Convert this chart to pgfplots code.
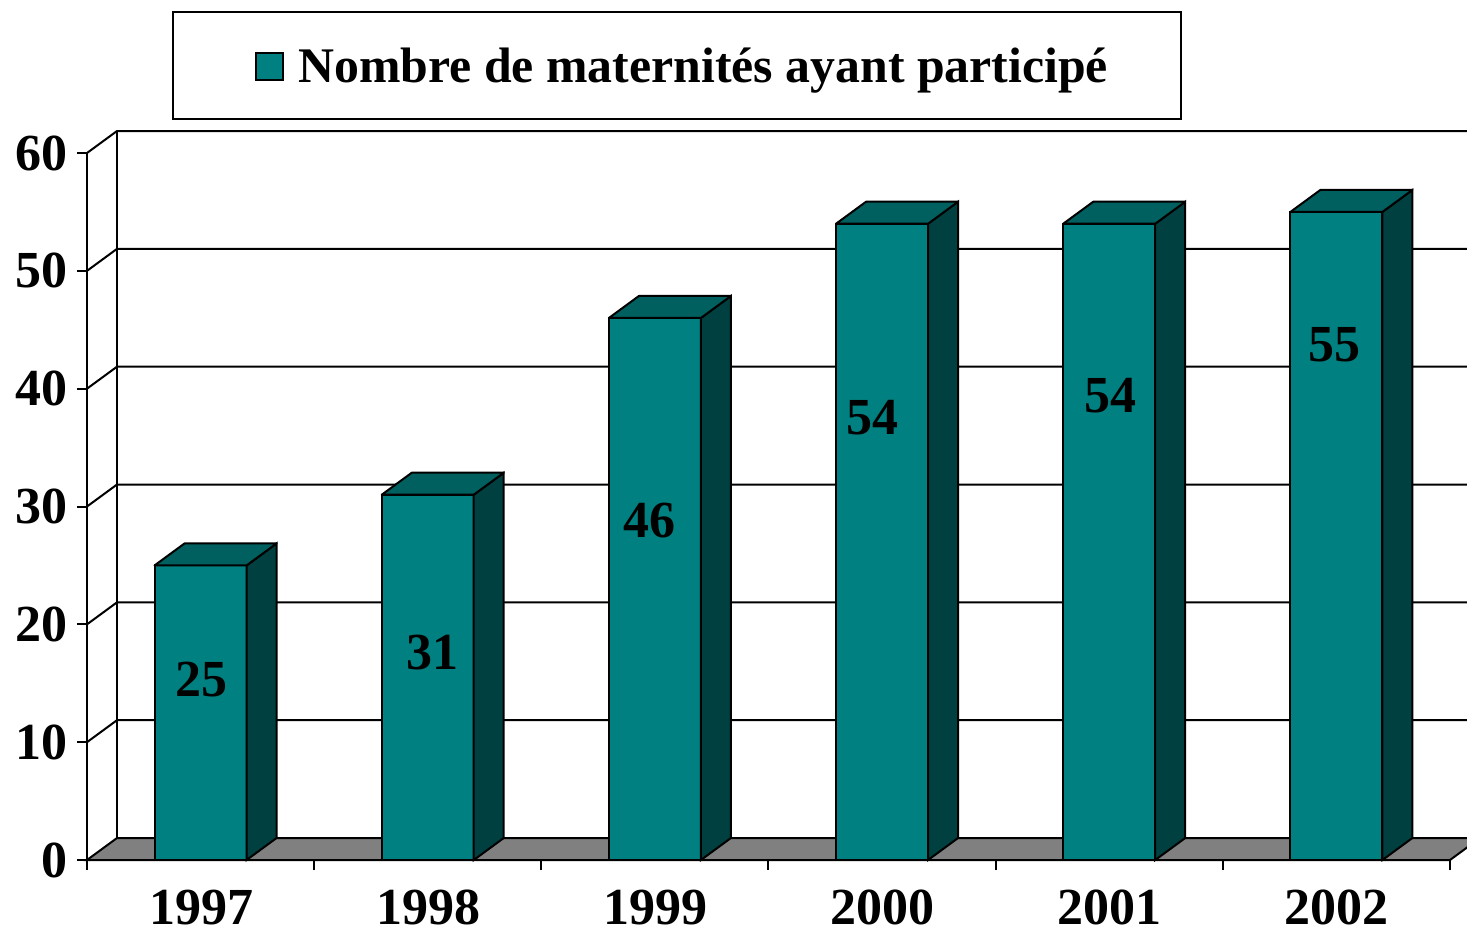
\documentclass[border=0pt]{standalone}
\usepackage{pgfplots}
\pgfplotsset{compat=1.18}
\usepackage{fontspec}
\setmainfont{Liberation Serif}
\definecolor{frontc}{HTML}{008080}
\definecolor{topc}{HTML}{006060}
\definecolor{sidec}{HTML}{004040}
\definecolor{floorc}{HTML}{808080}
\newcommand{\bigbf}{\fontsize{26}{30}\selectfont\bfseries}
\begin{document}
\begin{tikzpicture}
\useasboundingbox (-43.5pt,-37pt) rectangle (690pt,430pt);
\begin{axis}[
  at={(0pt,0pt)}, anchor=south west,
  scale only axis, width=681.5pt, height=353.5pt,
  xmin=-0.5, xmax=5.5, ymin=0, ymax=60,
  clip=false,
  axis x line*=bottom, axis y line*=left,
  axis line style={-, line width=1pt},
  every tick/.style={black, line width=1pt},
  tick align=outside, major tick length=5pt,
  ytick={0,10,...,60},
  xtick={-0.5,0.5,...,5.5},
  xticklabels={1997,1998,1999,2000,2001,2002,},
  xticklabel style={xshift=57pt, yshift=-10pt, inner sep=0pt, font=\bigbf},
  yticklabel style={xshift=-1pt, font=\bigbf},
  /pgf/number format/assume math mode=true,
]
% floor
\filldraw[fill=floorc, line width=1pt] (axis cs:-0.5,0) -- (axis cs:5.5,0) -- ([xshift=15pt,yshift=11pt]axis cs:5.5,0) -- ([xshift=15pt,yshift=11pt]axis cs:-0.5,0) -- cycle;
% back wall and left wall
\draw[line width=1pt] ([xshift=15pt,yshift=11pt]axis cs:-0.5,0) -- ([xshift=15pt,yshift=11pt]axis cs:-0.5,60);
\foreach \k in {10,20,30,40,50,60}{
  \edef\tmp{\noexpand\draw[line width=1pt] (axis cs:-0.5,\k) -- ([xshift=15pt,yshift=11pt]axis cs:-0.5,\k) -- ([xshift=15pt,yshift=11pt]axis cs:5.5,\k);}
  \tmp
}
% front faces
\addplot[ybar, bar width=46pt, fill=frontc, draw=black, line width=1pt] coordinates {(0,25) (1,31) (2,46) (3,54) (4,54) (5,55)};
% side and top faces
\foreach \i/\v in {0/25,1/31,2/46,3/54,4/54,5/55}{
  \edef\tmp{\noexpand\filldraw[fill=sidec, line width=1pt] ([xshift=23pt]axis cs:\i,0) -- ([xshift=38pt,yshift=11pt]axis cs:\i,0) -- ([xshift=38pt,yshift=11pt]axis cs:\i,\v) -- ([xshift=23pt]axis cs:\i,\v) -- cycle;
  \noexpand\filldraw[fill=topc, line width=1pt, line join=round] ([xshift=-23pt]axis cs:\i,\v) -- ([xshift=-8pt,yshift=11pt]axis cs:\i,\v) -- ([xshift=38pt,yshift=11pt]axis cs:\i,\v) -- ([xshift=23pt]axis cs:\i,\v) -- cycle;}
  \tmp
}
% value labels
\addplot[draw=none, mark=none, nodes near coords, point meta=explicit symbolic,
  every node near coord/.style={anchor=center, font=\bigbf, text=black}]
  coordinates {(0.006,15.28) [25] (1.023,17.57) [31] (1.978,28.85) [46] (2.96,37.5) [54] (4.005,39.38) [54] (4.99,43.7) [55]};
\end{axis}
% legend
\draw[line width=1pt] (43pt,370.5pt) rectangle (547pt,424pt);
\filldraw[fill=frontc, line width=1pt] (84.5pt,390pt) rectangle (98pt,403.5pt);
\node[anchor=base west, inner sep=0pt] at (105.5pt,389pt) {\fontsize{24.9}{29}\selectfont\bfseries Nombre de maternités ayant participé};
\end{tikzpicture}
\end{document}
